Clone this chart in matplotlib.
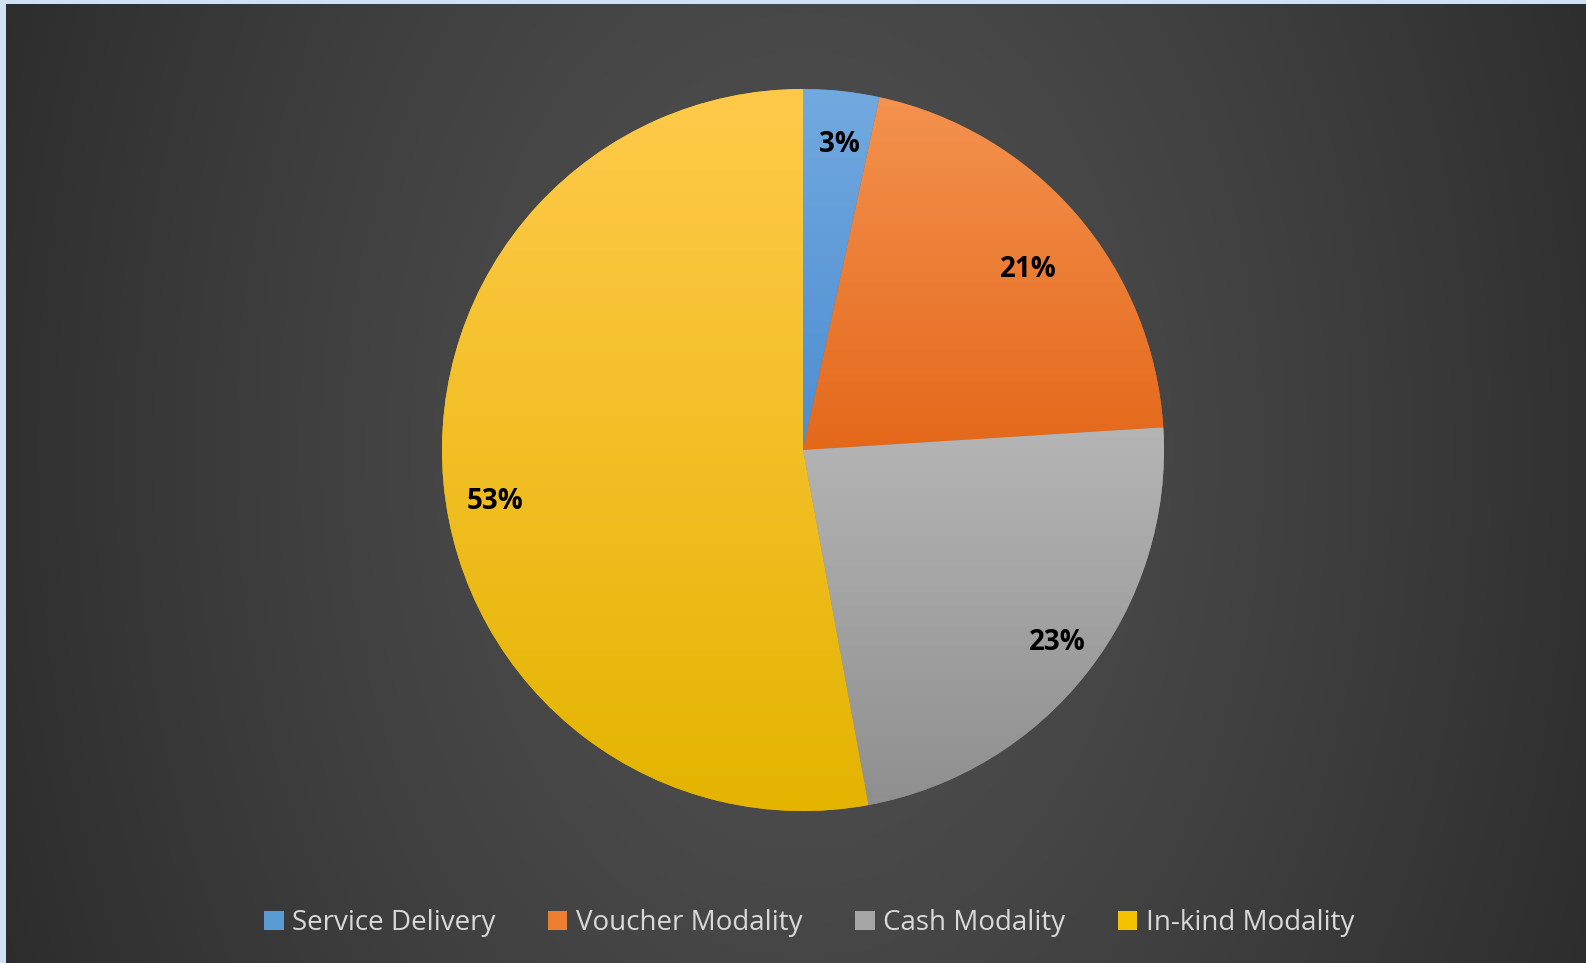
import numpy as np
import matplotlib.pyplot as plt
from matplotlib.patches import Patch
from matplotlib.colors import to_rgb

# Data
categories = ['Service Delivery', 'Voucher Modality', 'Cash Modality', 'In-kind Modality']
shares = [3.4, 20.6, 23.1, 52.9]

# gradient colours per slice (top, bottom) and flat legend colours
tops = ['#72a9df', '#f4924f', '#b5b5b5', '#ffca4b']
bottoms = ['#4d8dd2', '#e4681a', '#8f8f8f', '#e4b400']
legend_colors = ['#5b9bd5', '#ed7d31', '#a5a5a5', '#f5c200']

# small nudges of the % labels (data units) to mimic Excel's best-fit placement
label_nudge = [(0.011, 0.0), (-0.02, -0.053), (0.034, -0.011), (-0.008, -0.064)]

W, H = 1586, 963
fig = plt.figure(figsize=(W / 100, H / 100), dpi=100)
fig.patch.set_facecolor('#cfe2f3')

# dark background with a soft radial glow
bg = fig.add_axes([6 / W, 0, 1 - 6 / W, 1 - 4 / H])
bg.axis('off')
cx, cy = 803 - 6, 450 - 4
yy, xx = np.mgrid[0:H - 4, 0:W - 6]
d = np.sqrt(((xx - cx) / 950.0) ** 2 + ((yy - cy) / 1400.0) ** 2)
d = np.clip(d, 0, 1) ** 1.3
c_in, c_out = np.array(to_rgb('#515151')), np.array(to_rgb('#282828'))
img = c_in[None, None, :] * (1 - d[..., None]) + c_out[None, None, :] * d[..., None]
bg.imshow(img, aspect='auto', interpolation='bilinear')

# pie axes: centre (803, 450), radius 361 px
R = 361
ax = fig.add_axes([(803 - R) / W, (H - 450 - R) / H, 2 * R / W, 2 * R / H])
ax.axis('off')

wedges, texts, autotexts = ax.pie(
    shares, startangle=90, counterclock=False, radius=1,
    autopct='%.0f%%', pctdistance=0.85,
    wedgeprops=dict(linewidth=0),
    textprops=dict(color='black', fontsize=20, fontweight='bold', family='Open Sans'))

for w, t, b in zip(wedges, tops, bottoms):
    w.set_facecolor(b)
    ext = w.get_path().get_extents()
    grad = np.linspace(0, 1, 256)[:, None, None]
    col = np.array(to_rgb(t))[None, None, :] * (1 - grad) + np.array(to_rgb(b))[None, None, :] * grad
    im = ax.imshow(col, extent=[ext.x0, ext.x1, ext.y0, ext.y1], origin='upper',
                   aspect='auto', interpolation='bilinear', zorder=1.5)
    im.set_clip_path(w)

for at, (dx, dy) in zip(autotexts, label_nudge):
    x, y = at.get_position()
    at.set_position((x + dx, y + dy))
    at.set_zorder(3)

ax.set_xlim(-1, 1)
ax.set_ylim(-1, 1)

# legend
handles = [Patch(facecolor=c, edgecolor='none') for c in legend_colors]
leg = fig.legend(handles, categories, loc='center', ncol=4,
                 bbox_to_anchor=(809 / W, 1 - 923 / H), frameon=False,
                 handlelength=0.7, handleheight=0.7, handletextpad=0.3,
                 columnspacing=1.9, prop=dict(family='Open Sans', size=20))
for txt in leg.get_texts():
    txt.set_color('#d9d9d9')

fig.savefig('out.png', dpi=100, facecolor=fig.get_facecolor())
